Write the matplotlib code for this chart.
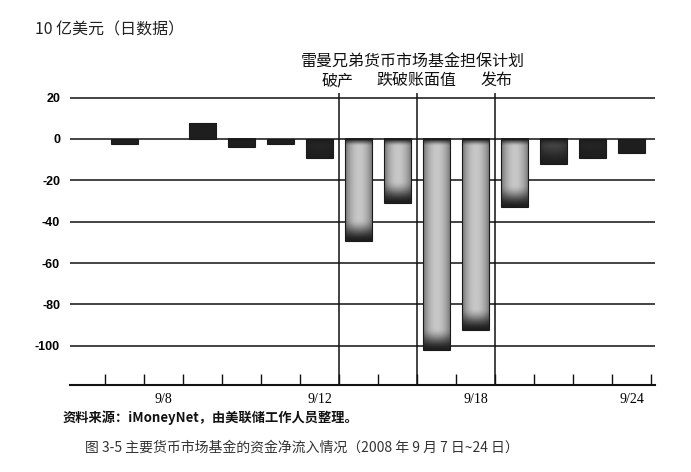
import numpy as np
import matplotlib
matplotlib.use("Agg")
import matplotlib.pyplot as plt

plt.rcParams['font.family'] = ['Noto Sans CJK SC', 'DejaVu Sans']

# daily net flows, billions of dollars (business days)
days = ["9/5", "9/8", "9/9", "9/10", "9/11", "9/12", "9/15", "9/16",
        "9/17", "9/18", "9/19", "9/22", "9/23", "9/24"]
flows = [-2.4, 0, 7.5, -4, -2.4, -9, -49.5, -31, -102, -92.5, -33, -12.3, -9, -6.6]
shown_labels = ["9/8", "9/12", "9/18", "9/24"]
yticks = [20, 0, -20, -40, -60, -80, -100]
event_lines = [5.5, 7.5, 9.5]   # between 9/12-9/15, 9/16-9/17, 9/18-9/19

fig = plt.figure(figsize=(6.91, 4.72), dpi=100)
ax = fig.add_axes([0.101, 0.184, 0.847, 0.618])

x = np.arange(len(days))
xlim = (-1.4, 13.6)
ylim = (-119, 22)
ax.set_xlim(*xlim)
ax.set_ylim(*ylim)

bars = ax.bar(x, flows, width=0.7, facecolor='none', edgecolor='#1a1a1a',
              linewidth=0.8, zorder=3)

# px per data unit, to shade bars like the scanned print
fig.canvas.draw()
p0 = ax.transData.transform((0, 0))
p1 = ax.transData.transform((1, 1))
px_x = abs(p1[0] - p0[0])
px_y = abs(p1[1] - p0[1])


def smooth(t):
    t = np.clip(t, 0, 1)
    return t * t * (3 - 2 * t)


dark, light = 0.12, 0.78
for b in bars:
    h = b.get_height()
    if h == 0:
        b.set_visible(False)
        continue
    x0, w = b.get_x(), b.get_width()
    y0 = b.get_y()
    ylo, yhi = min(y0, y0 + h), max(y0, y0 + h)
    ny = max(int(abs(h) * px_y), 2)
    nx = max(int(w * px_x), 2)
    u = (np.arange(nx) + 0.5) / nx
    fx = 0.45 + 0.55 * np.sin(np.pi * u) ** 0.8
    d = np.arange(ny) + 0.5            # from top of image
    fy = smooth(d / 8.0) * smooth((ny - d) / 22.0)
    amp = np.clip((ny - 15) / 40.0, 0, 1)
    img = dark + (light - dark) * amp * np.outer(fy, fx)
    ax.imshow(img, extent=[x0, x0 + w, ylo, yhi], origin='upper',
              cmap='gray', vmin=0, vmax=1, aspect='auto',
              interpolation='bilinear', zorder=2)

ax.set_xlim(*xlim)
ax.set_ylim(*ylim)

# horizontal rules
for yv in yticks:
    ax.axhline(yv, color='#111111', linewidth=1.1, zorder=1)
for xv in event_lines:
    ax.axvline(xv, color='#111111', linewidth=1.1, zorder=4)

for s in ['top', 'right', 'left']:
    ax.spines[s].set_visible(False)
ax.spines['bottom'].set_linewidth(1.5)
ax.spines['bottom'].set_color('#111111')

ax.set_yticks(yticks)
ax.set_yticklabels([str(v) for v in yticks], fontsize=9, fontweight='bold',
                   family=['Liberation Sans', 'DejaVu Sans'])
ax.tick_params(axis='y', length=0, pad=7)

ax.set_xticks(np.arange(-0.5, 14, 1))
ax.set_xticklabels([])
ax.tick_params(axis='x', which='major', direction='in', length=8, width=1, color='#111111')
ax.set_xticks([days.index(d) for d in shown_labels], minor=True)
ax.set_xticklabels(shown_labels, minor=True, fontsize=10,
                   family=['Liberation Serif', 'DejaVu Serif'])
ax.tick_params(axis='x', which='minor', length=0, pad=6)

# texts
fig.text(0.051, 0.936, "10 亿美元（日数据）", fontsize=11.5, va='center', ha='left', color='#222222')
fig.text(0.598, 0.867, "雷曼兄弟货币市场基金担保计划", fontsize=11.5, ha='center', va='center', color='#111111')
fig.text(0.488, 0.829, "破产", fontsize=11.5, ha='center', va='center', color='#111111')
fig.text(0.602, 0.829, "跌破账面值", fontsize=11.5, ha='center', va='center', color='#111111')
fig.text(0.719, 0.829, "发布", fontsize=11.5, ha='center', va='center', color='#111111')
fig.text(0.090, 0.114, "资料来源：iMoneyNet，由美联储工作人员整理。", fontsize=9.5,
         fontweight='bold', ha='left', va='center', color='#111111')
fig.text(0.123, 0.051, "图 3-5 主要货币市场基金的资金净流入情况（2008 年 9 月 7 日~24 日）",
         fontsize=10, ha='left', va='center', color='#333333')

fig.savefig("out.png", dpi=100)
